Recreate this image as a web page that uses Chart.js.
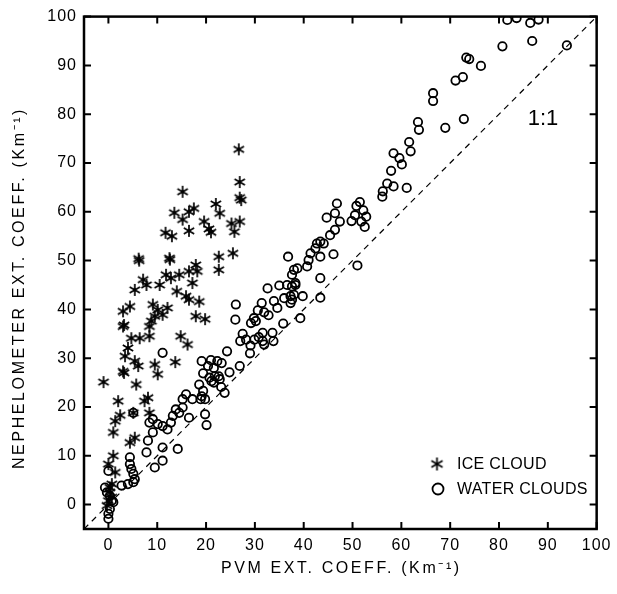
<!DOCTYPE html>
<html><head><meta charset="utf-8">
<script src="https://cdn.jsdelivr.net/npm/chart.js@4/dist/chart.umd.min.js"></script>
<style>html,body{margin:0;padding:0;background:#fff}canvas{display:block}</style>
</head><body>
<canvas id="c" width="617" height="594"></canvas>
<script>
const xTicks = [0,10,20,30,40,50,60,70,80,90,100];
const yTicks = [0,10,20,30,40,50,60,70,80,90,100];
const xTitle = 'PVM EXT. COEFF. (Km\u207B\u00B9)';
const yTitle = 'NEPHELOMETER EXT. COEFF. (Km\u207B\u00B9)';
const iceLabel = 'ICE CLOUD';
const waterLabel = 'WATER CLOUDS';
const lineLabel = '1:1';
const oneToOne = [[-5,-5],[100,100]];

const iceCloud = [
[26.7,72.8],[15.2,64.1],[26.9,66.1],[26.9,62.9],[27.2,62.4],[22.0,61.6],[17.5,60.7],
[16.5,60.0],[13.5,59.8],[22.8,59.7],[15.2,58.4],[19.6,58.0],[26.9,58.0],[25.2,57.6],
[20.6,56.5],[21.0,55.8],[16.5,56.1],[11.7,55.7],[13.0,55.0],[25.8,55.9],[6.3,50.0],
[6.2,50.4],[12.5,50.5],[12.6,50.2],[22.6,50.8],[25.5,51.5],[22.6,48.1],[17.9,49.1],[18.2,47.8],
[16.5,47.8],[14.5,47.1],[11.8,47.1],[12.8,46.4],[10.5,45.0],[7.1,46.1],[7.8,45.0],
[5.4,44.0],[17.2,45.4],[14.0,43.7],[15.9,42.7],[16.5,42.0],[18.6,41.6],[17.9,38.6],
[19.8,38.0],[4.4,40.6],[3.0,39.6],[9.1,41.0],[10.1,39.9],[9.5,38.6],[11.1,38.9],
[12.1,40.3],[8.8,37.6],[8.4,36.5],[3.0,36.5],[3.2,36.8],[4.7,34.1],[6.4,34.1],[8.4,34.5],
[14.8,34.5],[16.2,32.8],[4.0,32.1],[3.4,30.4],[5.4,29.4],[6.1,28.4],[3.0,27.3],
[3.2,27.0],[9.5,28.7],[10.1,26.7],[13.7,29.2],[-1.0,25.1],[5.7,24.6],[2.0,21.2],
[7.4,21.2],[8.1,21.9],[2.4,18.3],[8.4,18.8],[1.4,17.1],[1.0,14.8],[5.1,18.8],
[4.4,12.7],[5.4,13.7],[1.0,10.0],[0.0,8.3],[1.4,6.6],[0.7,4.2],[0.3,3.5],[0.3,2.5],
[0.7,1.5],[-0.3,-0.2],[0.0,0.8]
];

const waterClouds = [
[81.7,99.3],[83.6,99.7],[86.4,98.7],[88.1,99.4],[86.8,95.0],[80.7,93.9],[93.9,94.1],
[73.3,91.6],[73.9,91.3],[76.3,89.9],[72.6,87.6],[71.1,86.9],[66.5,84.3],[66.5,82.7],
[72.8,79.0],[69.0,77.2],[63.4,78.4],[63.6,76.8],[61.6,74.3],[61.9,72.4],[58.4,72.0],
[59.6,71.0],[60.1,69.7],[57.9,68.4],[61.1,64.9],[57.1,65.8],[58.4,65.2],[56.2,64.2],
[56.1,63.1],[46.8,61.7],[51.5,62.0],[50.8,61.2],[52.2,60.3],[46.4,59.7],[44.7,58.8],
[47.4,58.0],[50.5,59.3],[52.8,59.0],[49.8,58.1],[51.8,58.0],[52.5,56.9],[46.4,56.3],
[45.4,55.2],[43.4,53.9],[42.7,53.5],[44.1,53.5],[42.4,52.5],[41.4,51.5],[43.4,50.8],
[46.1,51.3],[41.0,50.1],[40.7,48.8],[51.0,49.0],[43.4,46.4],[36.8,50.8],[38.0,48.1],
[38.7,48.4],[37.6,47.1],[38.3,45.4],[37.6,44.7],[39.8,42.7],[43.4,42.4],[37.3,42.7],
[32.6,44.3],[35.0,44.9],[36.6,45.0],[38.3,45.0],[38.0,43.0],[37.6,42.0],[37.3,41.3],
[26.1,41.0],[26.0,37.9],[33.9,41.7],[31.4,41.3],[34.6,40.3],[30.6,39.8],[31.9,39.4],
[29.8,38.2],[30.2,37.6],[32.8,38.8],[29.2,37.2],[35.8,37.1],[39.3,38.2],[36.0,42.3],
[27.5,35.0],[31.6,35.2],[33.6,35.2],[31.6,33.5],[33.8,33.5],[30.8,34.3],[27.0,33.5],
[28.2,33.8],[29.1,32.6],[29.0,31.0],[29.9,33.8],[31.9,32.8],[24.3,31.4],[19.1,29.4],
[21.0,29.6],[22.3,29.4],[23.2,29.0],[21.6,28.0],[20.4,28.4],[26.9,28.4],[24.8,27.1],
[19.4,26.9],[20.7,26.0],[21.8,26.3],[22.6,26.3],[21.1,25.3],[22.8,25.7],[23.1,24.1],
[23.8,22.9],[19.4,23.3],[19.1,22.2],[19.8,21.6],[19.8,18.5],[20.1,16.3],[16.5,17.8],
[18.6,24.6],[21.6,25.0],[15.9,22.6],[15.2,21.6],[17.2,21.6],[18.9,21.6],[13.8,19.5],
[14.2,11.4],[11.1,11.7],[11.1,9.0],[9.5,7.6],[7.8,10.7],[8.1,13.1],[9.1,14.8],
[10.1,16.5],[11.1,16.1],[12.1,15.4],[12.8,16.8],[13.2,18.2],[14.5,18.8],[15.2,19.9],
[8.4,16.8],[9.1,17.5],[4.4,9.7],[4.4,8.3],[4.7,7.3],[5.1,6.3],[5.4,5.2],[5.1,4.6],
[4.0,4.2],[2.7,3.9],[-0.7,3.5],[-0.3,2.5],[0.3,1.8],[0.7,0.8],[1.0,0.5],[0.0,6.9],
[0.3,-0.9],[0.0,-1.9],[0.0,-2.9],[5.1,18.8],[11.1,31.1]
];

function makeStar(r, lw) {
  const s = Math.ceil(2 * r + lw + 2);
  const c = document.createElement('canvas');
  c.width = c.height = s;
  const g = c.getContext('2d');
  g.strokeStyle = '#000'; g.lineWidth = lw;
  const m = s / 2;
  g.beginPath();
  for (const a of [90, 30, 150]) {
    const rad = a * Math.PI / 180;
    g.moveTo(m - r * Math.cos(rad), m - r * Math.sin(rad));
    g.lineTo(m + r * Math.cos(rad), m + r * Math.sin(rad));
  }
  g.stroke();
  return c;
}
const starImg = makeStar(6, 1.7);
const legendStar = makeStar(6.5, 1.7);
const toXY = arr => arr.map(([x, y]) => ({x, y}));

const FONT = '"Liberation Sans", Arial, sans-serif';

const decorPlugin = {
  id: 'decor',
  beforeDraw(chart) { chart.ctx.letterSpacing = '1px'; },
  afterDraw(chart) {
    const {ctx, chartArea: a, scales: {x, y}} = chart;
    ctx.letterSpacing = '0px';
    ctx.save();
    ctx.strokeStyle = '#000';
    ctx.fillStyle = '#000';
    // frame
    ctx.lineWidth = 2.5;
    ctx.strokeRect(a.left, a.top, a.right - a.left, a.bottom - a.top);
    // inward ticks
    ctx.lineWidth = 2;
    ctx.beginPath();
    for (const t of x.ticks) {
      const p = x.getPixelForValue(t.value);
      ctx.moveTo(p, a.bottom); ctx.lineTo(p, a.bottom - 7);
      ctx.moveTo(p, a.top); ctx.lineTo(p, a.top + 7);
    }
    for (const t of y.ticks) {
      const p = y.getPixelForValue(t.value);
      ctx.moveTo(a.left, p); ctx.lineTo(a.left + 7, p);
      ctx.moveTo(a.right, p); ctx.lineTo(a.right - 7, p);
    }
    ctx.stroke();
    // 1:1 label
    ctx.font = '22px ' + FONT;
    ctx.textAlign = 'center'; ctx.textBaseline = 'middle';
    ctx.fillText(lineLabel, x.getPixelForValue(89), y.getPixelForValue(79));
    // axis titles
    ctx.font = '16px ' + FONT;
    ctx.letterSpacing = '2.6px';
    ctx.fillText(xTitle, (a.left + a.right) / 2 + 1, 569);
    ctx.save();
    ctx.translate(20, 288);
    ctx.rotate(-Math.PI / 2);
    ctx.fillText(yTitle, 0, 0);
    ctx.restore();
    ctx.letterSpacing = '0.3px';
    // legend
    const ds = chart.data.datasets;
    ctx.textAlign = 'left';
    ctx.font = '16px ' + FONT;
    ctx.drawImage(legendStar, 437 - legendStar.width / 2, 464 - legendStar.height / 2);
    ctx.fillText(ds[0].label, 457, 465);
    ctx.lineWidth = 1.8;
    ctx.beginPath(); ctx.arc(438, 489, 5.5, 0, Math.PI * 2); ctx.stroke();
    ctx.fillText(ds[1].label, 457, 490);
    ctx.restore();
  }
};

const tickFont = {family: FONT, size: 16};
new Chart(document.getElementById('c'), {
  type: 'scatter',
  data: {
    datasets: [
      {label: iceLabel, data: toXY(iceCloud), pointStyle: starImg, pointRadius: 6,
       borderColor: '#000', backgroundColor: '#000'},
      {label: waterLabel, data: toXY(waterClouds), pointStyle: 'circle', pointRadius: 4.2,
       borderWidth: 1.8, borderColor: '#000', backgroundColor: 'rgba(0,0,0,0)'},
      {label: lineLabel, data: toXY(oneToOne), showLine: true, pointRadius: 0,
       borderColor: '#000', borderWidth: 1.2, borderDash: [6, 5], fill: false}
    ]
  },
  options: {
    responsive: false, animation: false, events: [],
    layout: {padding: {left: 0, right: 14, top: 14, bottom: 0}},
    plugins: {legend: {display: false}, tooltip: {enabled: false}},
    scales: {
      x: {type: 'linear', min: -5, max: 100,
        afterBuildTicks: s => { s.ticks = xTicks.map(v => ({value: v})); },
        afterFit: s => { s.height = 65; },
        grid: {display: false, drawTicks: false}, border: {display: false},
        ticks: {color: '#000', font: tickFont, padding: 7, maxRotation: 0, autoSkip: false}},
      y: {type: 'linear', min: -5, max: 100,
        afterBuildTicks: s => { s.ticks = yTicks.map(v => ({value: v})); },
        afterFit: s => { s.width = 84; },
        grid: {display: false, drawTicks: false}, border: {display: false},
        ticks: {color: '#000', font: tickFont, padding: 7, autoSkip: false}}
    }
  },
  plugins: [decorPlugin]
});
</script>
</body></html>
